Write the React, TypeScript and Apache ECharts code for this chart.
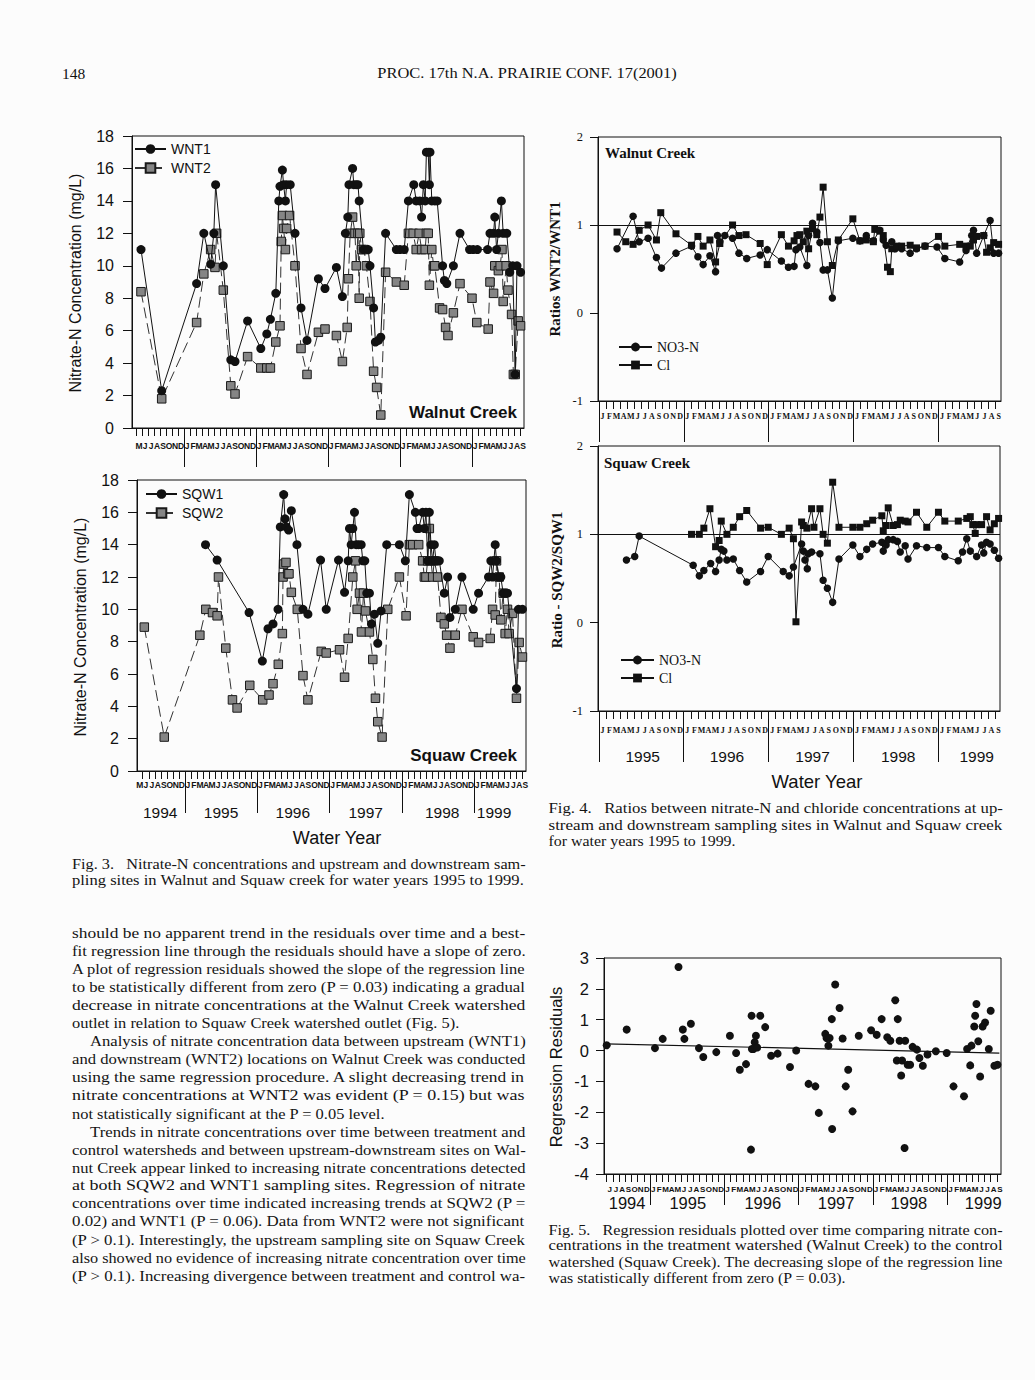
import React, { useEffect, useRef } from 'react';
import * as echarts from 'echarts';

// ---------- tick labels ----------
const MONTH_LETTERS = ['J', 'F', 'M', 'A', 'M', 'J', 'J', 'A', 'S', 'O', 'N', 'D'];
// month index: 0 = start of January 1994
const YEAR_BOUNDS = [12, 24, 36, 48, 60];
const YEARS_F3 = ['1994', '1995', '1996', '1997', '1998', '1999'];
const YEAR_POS_F3 = [7.9, 18, 29.9, 42, 54.7, 63.3];
const YEARS_F4 = ['1995', '1996', '1997', '1998', '1999'];
const YEAR_POS_F4 = [18.2, 30.1, 42.2, 54.3, 65.4];
const YEARS_F5 = ['1994', '1995', '1996', '1997', '1998', '1999'];
const YEAR_POS_F5 = [8.3, 18.1, 30.2, 42.05, 53.8, 65.8];

// ---------- Fig. 3 data: [month index, nitrate-N mg/L] ----------
const WNT1 = [
  [4.83, 11.0], [8.28, 2.3], [14.1, 8.9], [15.3, 12.0], [16.44, 10.1], [16.97, 12.0], [17.27, 15.0], [18.55, 10.0],
  [19.8, 4.2], [20.5, 4.1], [22.6, 6.6], [24.8, 4.9], [25.8, 5.8], [26.4, 6.7], [27.3, 8.3], [27.8, 14.0],
  [28.0, 14.9], [28.4, 15.9], [28.6, 15.0], [28.9, 14.0], [29.1, 15.0], [29.7, 15.0], [30.5, 12.0], [31.5, 7.4],
  [32.5, 5.4], [34.4, 9.2], [35.5, 8.6], [37.4, 9.9], [38.4, 8.1], [38.9, 12.0], [39.3, 13.0], [39.5, 15.0],
  [40.1, 16.0], [40.3, 15.0], [40.7, 15.0], [41.0, 15.0], [41.2, 14.0], [41.9, 11.0], [42.7, 11.0], [43.0, 10.0],
  [43.6, 7.4], [43.9, 5.3], [44.4, 5.4], [44.8, 5.6], [45.6, 12.0], [47.4, 11.0], [48.0, 11.0], [48.7, 11.0],
  [49.4, 14.0], [50.3, 15.0], [50.7, 14.0], [51.3, 14.0], [51.6, 13.0], [51.9, 15.0], [52.2, 14.0], [52.4, 17.0],
  [52.7, 17.0], [52.9, 15.0], [53.0, 17.0], [53.3, 14.0], [53.8, 14.0], [54.2, 14.0], [55.1, 10.0], [55.4, 9.1],
  [55.8, 8.9], [56.9, 10.0], [58.0, 12.0], [59.6, 11.0], [60.2, 11.0], [60.9, 11.0], [62.6, 11.0], [63.0, 12.0],
  [63.6, 12.0], [63.8, 13.0], [64.1, 11.0], [64.4, 12.0], [64.9, 14.0], [65.2, 12.0], [65.8, 12.0], [66.3, 9.6],
  [66.8, 10.0], [67.2, 3.3], [67.5, 10.0], [68.1, 9.6],
];
const WNT2 = [
  [4.83, 8.4], [8.28, 1.8], [14.1, 6.5], [15.3, 9.5], [16.44, 11.0], [17.16, 9.9], [17.44, 12.0], [18.55, 8.5],
  [19.8, 2.6], [20.5, 2.1], [22.6, 4.4], [24.8, 3.7], [25.8, 3.7], [26.4, 3.7], [27.3, 5.3], [28.0, 6.3],
  [28.2, 11.5], [28.4, 13.1], [28.6, 12.3], [28.9, 11.0], [29.1, 12.3], [29.6, 13.1], [30.5, 10.0], [31.5, 4.9],
  [32.5, 3.3], [34.4, 5.9], [35.5, 6.1], [37.4, 5.7], [38.4, 4.1], [39.2, 6.2], [39.4, 9.2], [39.7, 12.0],
  [40.1, 13.0], [40.5, 12.0], [40.7, 10.0], [41.0, 12.0], [41.2, 8.0], [41.3, 12.0], [41.6, 11.0], [42.0, 11.0],
  [42.4, 10.0], [43.0, 7.8], [43.6, 3.5], [44.1, 2.5], [44.8, 0.8], [45.6, 9.6], [47.4, 9.0], [48.7, 8.8],
  [49.4, 12.0], [50.2, 12.0], [50.7, 11.0], [51.2, 12.0], [51.6, 11.0], [52.2, 11.0], [52.4, 12.0], [52.7, 12.0],
  [52.9, 8.8], [53.3, 11.0], [53.6, 10.0], [53.8, 10.0], [54.6, 7.4], [55.1, 7.3], [55.6, 6.2], [56.0, 5.7],
  [56.9, 7.1], [58.0, 8.9], [60.0, 8.0], [60.8, 6.5], [62.7, 6.1], [63.0, 9.0], [63.6, 8.3], [63.8, 10.0],
  [64.4, 9.7], [64.7, 10.0], [65.0, 11.0], [65.2, 7.8], [65.7, 10.0], [66.0, 8.5], [66.6, 7.0], [66.9, 3.3],
  [67.2, 3.3], [67.7, 6.6], [68.1, 6.3],
];
const SQW1 = [
  [15.42, 14.0], [17.35, 13.05], [22.65, 9.8], [24.85, 6.8], [25.79, 8.8], [26.62, 9.1], [27.45, 10.0], [27.83, 15.1],
  [28.39, 17.1], [28.61, 15.6], [28.83, 15.1], [29.21, 14.9], [29.66, 16.1], [30.59, 14.0], [31.59, 10.0], [32.41, 9.7],
  [34.51, 13.05], [35.45, 10.0], [37.49, 13.05], [38.49, 11.05], [39.09, 13.0], [39.31, 15.0], [39.59, 14.0], [39.86, 15.0],
  [40.14, 16.0], [40.42, 14.0], [40.8, 14.0], [41.25, 14.0], [41.52, 13.0], [41.85, 13.0], [42.18, 11.0], [42.62, 11.0],
  [42.96, 9.1], [43.45, 9.7], [44.0, 7.9], [44.56, 9.9], [45.49, 14.0], [47.59, 14.0], [48.58, 13.0], [49.25, 17.1],
  [50.24, 16.0], [50.52, 15.0], [50.79, 15.0], [51.45, 16.0], [51.73, 15.0], [52.0, 16.0], [52.28, 13.0], [52.56, 16.0],
  [52.83, 14.0], [53.11, 13.0], [53.39, 14.0], [53.66, 13.0], [54.21, 13.0], [55.04, 11.0], [55.59, 12.0], [55.98, 9.5],
  [56.86, 10.0], [57.97, 12.0], [59.84, 10.0], [60.73, 11.0], [62.38, 12.0], [62.77, 13.0], [63.05, 12.0], [63.49, 14.0],
  [63.71, 13.0], [64.04, 12.0], [64.42, 12.0], [64.81, 11.0], [65.14, 11.0], [65.53, 11.0], [67.02, 5.1], [67.35, 10.0],
  [68.01, 10.0],
];
const SQW2 = [
  [5.26, 8.9], [8.57, 2.1], [14.48, 8.4], [15.47, 10.0], [16.58, 9.8], [17.35, 9.6], [17.57, 12.0], [18.78, 7.6],
  [19.89, 4.4], [20.66, 3.9], [22.76, 5.3], [24.91, 4.4], [25.96, 4.7], [26.62, 5.4], [27.5, 6.6], [28.17, 8.5],
  [28.28, 12.0], [28.39, 12.8], [28.77, 12.9], [29.1, 12.2], [29.27, 12.2], [29.66, 11.05], [30.65, 10.0], [31.59, 5.9],
  [32.41, 4.4], [34.62, 7.4], [35.45, 7.3], [37.66, 7.5], [38.49, 5.8], [39.09, 8.2], [39.86, 12.0], [40.31, 13.0],
  [40.58, 10.0], [40.97, 11.0], [41.3, 8.6], [41.63, 11.0], [41.96, 9.9], [42.62, 8.6], [43.18, 6.9], [43.62, 4.5],
  [44.0, 3.05], [44.72, 2.1], [45.66, 10.0], [47.59, 12.0], [48.7, 9.6], [49.25, 14.0], [49.8, 14.0], [50.79, 14.0],
  [51.45, 13.0], [51.73, 12.0], [52.0, 12.0], [52.28, 13.0], [52.56, 15.0], [52.83, 13.0], [53.11, 12.0], [53.39, 13.0],
  [53.94, 12.0], [54.49, 9.5], [55.04, 9.1], [55.43, 8.4], [55.98, 7.6], [56.86, 8.4], [57.97, 10.0], [59.84, 8.3],
  [60.73, 7.95], [62.66, 8.2], [63.05, 10.0], [63.49, 9.65], [63.71, 13.0], [64.15, 12.0], [64.42, 9.35], [64.81, 11.0],
  [65.14, 8.5], [65.53, 10.0], [65.8, 8.5], [66.36, 9.75], [67.02, 4.5], [67.46, 7.95], [68.01, 7.05],
];

// ---------- Fig. 4 data: [month index, ratio] ----------
const WN_NO3 = [
  [14.57, 0.73], [16.84, 1.10], [17.7, 0.81], [18.96, 0.85], [20.14, 0.63], [20.85, 0.51], [22.9, 0.68], [25.1, 0.76],
  [26.0, 0.64], [26.74, 0.55], [27.7, 0.65], [28.5, 0.47], [28.77, 0.88], [29.1, 0.81], [29.8, 0.88], [30.9, 0.85],
  [31.8, 0.68], [32.9, 0.62], [34.8, 0.66], [35.8, 0.72], [37.8, 0.59], [38.8, 0.52], [39.6, 0.53], [39.85, 0.72],
  [40.4, 0.75], [41.4, 0.54], [41.65, 0.88], [42.2, 1.02], [42.8, 0.92], [43.25, 0.80], [43.7, 0.49], [44.3, 0.49],
  [45.0, 0.17], [45.85, 0.82], [47.9, 0.85], [48.9, 0.82], [49.8, 0.88], [50.8, 0.82], [51.7, 0.94], [52.2, 0.83],
  [52.6, 0.77], [53.4, 0.81], [53.9, 0.73], [54.8, 0.73], [56.0, 0.68], [56.9, 0.73], [58.1, 0.76], [59.8, 0.75],
  [60.9, 0.62], [63.0, 0.58], [63.9, 0.71], [64.7, 0.88], [64.95, 0.94], [65.4, 0.68], [66.4, 0.88], [67.3, 1.05],
  [67.8, 0.68], [68.5, 0.68],
];
const WN_CL = [
  [14.57, 0.92], [15.8, 0.81], [16.84, 0.78], [17.7, 0.94], [18.96, 1.0], [20.14, 0.83], [20.75, 1.14], [22.9, 0.9],
  [25.1, 0.77], [26.0, 0.87], [26.74, 0.76], [27.7, 0.83], [28.5, 0.58], [29.1, 0.79], [30.9, 1.0], [31.8, 0.88],
  [32.8, 0.89], [34.8, 0.79], [35.8, 0.55], [37.8, 0.89], [38.8, 0.76], [39.6, 0.82], [40.0, 0.88], [40.4, 0.89],
  [40.9, 0.81], [41.4, 0.93], [41.65, 0.73], [42.2, 0.96], [42.8, 0.89], [43.25, 1.09], [43.7, 1.43], [44.3, 0.81],
  [45.0, 0.54], [45.85, 0.83], [47.9, 1.07], [48.9, 0.82], [49.8, 0.83], [50.8, 0.81], [51.0, 0.95], [51.7, 0.93],
  [52.2, 0.88], [52.8, 0.52], [53.2, 0.47], [53.4, 0.73], [54.1, 0.76], [54.8, 0.76], [56.0, 0.77], [56.9, 0.74],
  [58.1, 0.76], [60.0, 0.87], [60.9, 0.76], [63.0, 0.78], [63.9, 0.76], [64.5, 0.76], [64.95, 0.83], [65.4, 0.87],
  [66.4, 0.88], [66.8, 0.69], [67.3, 0.74], [67.8, 0.80], [68.5, 0.78],
];
const SQ_NO3 = [
  [15.9, 0.71], [17.07, 0.75], [17.7, 0.98], [25.33, 0.65], [26.2, 0.53], [26.84, 0.59], [27.8, 0.67], [28.5, 0.58],
  [29.0, 0.71], [29.3, 0.83], [29.67, 0.81], [30.1, 0.71], [31.0, 0.72], [31.9, 0.59], [32.9, 0.46], [34.86, 0.58],
  [35.94, 0.75], [38.06, 0.58], [38.9, 0.53], [39.5, 0.63], [40.66, 0.89], [40.9, 0.81], [41.13, 0.71], [41.46, 0.61],
  [41.6, 0.78], [42.07, 0.80], [43.25, 0.78], [43.7, 0.48], [44.3, 0.39], [45.05, 0.23], [45.94, 0.72], [47.9, 0.88],
  [48.9, 0.75], [49.86, 0.83], [50.7, 0.89], [52.0, 0.91], [52.2, 0.81], [52.6, 0.88], [52.9, 0.94], [53.6, 0.94],
  [54.2, 0.92], [54.6, 0.80], [55.3, 0.87], [55.7, 0.72], [56.9, 0.87], [58.35, 0.85], [60.0, 0.85], [60.9, 0.75],
  [62.8, 0.70], [63.4, 0.80], [64.0, 0.95], [64.5, 0.81], [65.4, 0.75], [66.1, 0.88], [66.4, 0.79], [66.8, 0.91],
  [67.3, 0.89], [67.9, 0.82], [68.5, 0.73],
];
const SQ_CL = [
  [25.1, 1.0], [26.2, 1.0], [26.84, 1.07], [27.7, 1.29], [28.5, 0.86], [29.0, 0.93], [29.3, 1.15], [30.1, 1.0],
  [31.0, 1.08], [31.9, 1.2], [32.9, 1.27], [34.86, 1.07], [35.94, 1.08], [37.8, 1.0], [38.9, 1.07], [39.5, 0.95],
  [39.86, 0.01], [40.66, 1.14], [40.9, 1.10], [41.4, 1.07], [42.07, 1.29], [42.4, 1.08], [43.25, 1.29], [43.7, 1.0],
  [44.3, 0.90], [45.05, 1.59], [45.94, 1.08], [47.9, 1.08], [48.9, 1.08], [49.86, 1.12], [50.7, 1.16], [52.0, 1.21],
  [52.2, 1.04], [52.6, 1.10], [52.9, 1.30], [53.6, 1.10], [54.2, 1.11], [54.6, 1.16], [55.3, 1.15], [55.7, 1.14],
  [56.9, 1.25], [58.35, 1.08], [60.0, 1.25], [60.9, 1.15], [62.8, 1.15], [64.0, 1.18], [64.5, 1.20], [64.85, 1.11],
  [65.2, 1.01], [65.4, 1.11], [66.1, 1.11], [66.8, 1.20], [67.3, 1.05], [67.9, 1.12], [68.5, 1.18],
];

// ---------- Fig. 5 data: [month index, residual] ----------
const RESID = [
  [5.0, 0.17], [8.23, 0.68], [12.8, 0.08], [14.05, 0.38], [16.6, 2.71], [17.3, 0.68], [17.55, 0.38], [18.6, 0.87],
  [19.9, 0.08], [20.6, -0.21], [22.7, -0.05], [24.9, 0.48], [25.9, -0.08], [26.5, -0.62], [27.5, -0.44], [28.3, -3.21],
  [28.4, 1.13], [28.45, 0.05], [28.7, 0.05], [28.9, 0.27], [29.1, 0.48], [29.3, 0.1], [29.8, 1.13], [30.6, 0.76],
  [31.55, -0.17], [32.6, -0.1], [34.6, -0.53], [35.6, 0.0], [37.6, -1.08], [38.7, -1.16], [39.25, -2.02], [40.3, 0.54],
  [40.5, 0.41], [40.8, 0.16], [41.0, 0.41], [41.35, 1.02], [41.4, -2.54], [41.9, 2.14], [42.6, 1.38], [43.1, 0.39],
  [43.6, -1.16], [44.0, -0.62], [44.7, -1.97], [45.7, 0.48], [47.7, 0.66], [48.6, 0.51], [49.4, 1.02], [50.3, 0.43],
  [50.8, 0.32], [51.6, 1.63], [51.85, -0.32], [52.0, 1.02], [52.3, 0.32], [52.55, -0.81], [52.7, -0.32], [53.1, -3.16],
  [53.2, 0.32], [53.6, -0.46], [54.0, -0.46], [54.4, 0.12], [55.1, 0.03], [55.5, -0.24], [56.05, -0.49], [56.8, -0.13],
  [58.15, -0.02], [59.9, -0.08], [61.0, -1.16], [62.7, -1.48], [63.2, 0.05], [63.7, -0.48], [63.9, 0.16], [64.35, 0.78],
  [64.5, 1.13], [64.7, 1.51], [65.0, 0.30], [65.3, -0.84], [65.7, 0.78], [66.1, 0.91], [66.7, 0.05], [67.0, 1.29],
  [67.6, -0.49], [68.1, -0.46],
];
const REG_LINE = [[4.8, 0.22], [68.4, -0.08]];

// ---------- page text ----------
const HEADER_LEFT = '148';
const HEADER_CENTER = 'PROC. 17th N.A. PRAIRIE CONF. 17(2001)';
const FIG3_CAPTION = [
  'Fig. 3.\u00a0\u00a0 Nitrate-N concentrations and upstream and downstream sam-',
  'pling sites in Walnut and Squaw creek for water years 1995 to 1999.',
];
const BODY_P1 = [
  'should be no apparent trend in the residuals over time and a best-',
  'fit regression line through the residuals should have a slope of zero.',
  'A plot of regression residuals showed the slope of the regression line',
  'to be statistically different from zero (P = 0.03) indicating a gradual',
  'decrease in nitrate concentrations at the Walnut Creek watershed',
  'outlet in relation to Squaw Creek watershed outlet (Fig. 5).',
];
const BODY_P2 = [
  'Analysis of nitrate concentration data between upstream (WNT1)',
  'and downstream (WNT2) locations on Walnut Creek was conducted',
  'using the same regression procedure. A slight decreasing trend in',
  'nitrate concentrations at WNT2 was evident (P = 0.15) but was',
  'not statistically significant at the P = 0.05 level.',
];
const BODY_P3 = [
  'Trends in nitrate concentrations over time between treatment and',
  'control watersheds and between upstream-downstream sites on Wal-',
  'nut Creek appear linked to increasing nitrate concentrations detected',
  'at both SQW2 and WNT1 sampling sites. Regression of nitrate',
  'concentrations over time indicated increasing trends at SQW2 (P =',
  '0.02) and WNT1 (P = 0.06). Data from WNT2 were not significant',
  '(P > 0.1). Interestingly, the upstream sampling site on Squaw Creek',
  'also showed no evidence of increasing nitrate concentration over time',
  '(P > 0.1). Increasing divergence between treatment and control wa-',
];
const FIG4_CAPTION = [
  'Fig. 4.\u00a0\u00a0 Ratios between nitrate-N and chloride concentrations at up-',
  'stream and downstream sampling sites in Walnut and Squaw creek',
  'for water years 1995 to 1999.',
];
const FIG5_CAPTION = [
  'Fig. 5.\u00a0\u00a0 Regression residuals plotted over time comparing nitrate con-',
  'centrations in the treatment watershed (Walnut Creek) to the control',
  'watershed (Squaw Creek). The decreasing slope of the regression line',
  'was statistically different from zero (P = 0.03).',
];

// ---------- styling ----------
const INK = '#111111';
const SANS = 'Liberation Sans';
const SERIF = 'Liberation Serif';
const BG = '#fcfcfc';

let measureCtx: CanvasRenderingContext2D | null = null;
function measure(text: string, size: number, weight: string, family: string) {
  if (!measureCtx) measureCtx = document.createElement('canvas').getContext('2d');
  measureCtx!.font = `${weight} ${size}px "${family}"`;
  return measureCtx!.measureText(text).width;
}

function txt(text: string, x: number, y: number, o: any = {}) {
  return {
    type: 'text',
    x,
    y,
    rotation: o.rotation || 0,
    scaleX: o.scaleX || 1,
    silent: true,
    style: {
      text,
      fontSize: o.size || 14,
      fontFamily: o.family || SERIF,
      fontWeight: o.weight || 'normal',
      fill: o.fill || INK,
      textAlign: o.align || 'left',
      align: o.align || 'left',
      textVerticalAlign: 'middle',
      verticalAlign: 'middle',
    },
  };
}

// a block of lines; justified lines are stretched to the column width
function textBlock(lines: { t: string; x: number; y: number; right: number; just: boolean }[], size: number) {
  const scales: number[] = [];
  lines.forEach((l) => {
    if (l.just) scales.push((l.right - l.x) / measure(l.t, size, 'normal', SERIF));
  });
  const base = scales.length ? scales.reduce((a, b) => a + b, 0) / scales.length : 1;
  return lines.map((l) => {
    const s = l.just ? (l.right - l.x) / measure(l.t, size, 'normal', SERIF) : Math.min(base, 1.06);
    return txt(l.t, l.x, l.y, { size, scaleX: s, fill: '#141414' });
  });
}

function range(a: number, b: number, off = 0) {
  const r: number[] = [];
  for (let m = a; m <= b; m++) r.push(m + off);
  return r;
}

function monthAxis(gridIndex: number, min: number, max: number, first: number, last: number, family: string, size: number, margin: number) {
  return {
    type: 'value',
    gridIndex,
    min,
    max,
    position: 'bottom',
    axisLine: { show: true, onZero: false, lineStyle: { color: INK, width: 1 } },
    axisTick: { show: true, customValues: range(first, last + 1).filter((t) => t > min && t < max), length: 8, lineStyle: { color: INK, width: 1 } },
    axisLabel: {
      show: true,
      customValues: range(first, last, 0.5),
      formatter: (v: number) => MONTH_LETTERS[Math.floor(v) % 12],
      margin,
      fontSize: size,
      fontFamily: family,
      fontWeight: 'bold',
      color: INK,
    },
    splitLine: { show: false },
  };
}

function nearest(arr: number[], v: number) {
  let bi = 0;
  arr.forEach((a, i) => {
    if (Math.abs(a - v) < Math.abs(arr[bi] - v)) bi = i;
  });
  return bi;
}

function yearAxis(gridIndex: number, min: number, max: number, len: number, years?: string[], pos?: number[], size = 15, margin = 30) {
  return {
    type: 'value',
    gridIndex,
    min,
    max,
    position: 'bottom',
    axisLine: { show: false, onZero: false },
    axisTick: { show: true, customValues: YEAR_BOUNDS, length: len, lineStyle: { color: INK, width: 1 } },
    axisLabel: years
      ? {
          show: true,
          customValues: pos,
          formatter: (v: number) => years[nearest(pos!, v)],
          margin,
          fontSize: size,
          fontFamily: SANS,
          color: INK,
        }
      : { show: false },
    splitLine: { show: false },
  };
}

function valueYAxis(gridIndex: number, min: number, max: number, interval: number, family: string, size: number, margin: number, tickLen: number) {
  return {
    type: 'value',
    gridIndex,
    min,
    max,
    interval,
    axisLine: { show: true, lineStyle: { color: INK, width: 1 } },
    axisTick: { show: true, length: tickLen, lineStyle: { color: INK, width: 1 } },
    axisLabel: { fontSize: size, fontFamily: family, color: INK, margin },
    splitLine: { show: false },
  };
}

function buildOption() {
  const grids = [
    { left: 132, top: 136, width: 392, height: 292 },
    { left: 137, top: 480, width: 389, height: 291 },
    { left: 598, top: 137, width: 403, height: 264 },
    { left: 598, top: 446, width: 402, height: 265 },
    { left: 604, top: 958, width: 397, height: 216 },
  ].map((g) => ({ ...g, show: true, borderColor: INK, borderWidth: 1, backgroundColor: 'transparent' }));

  const xAxis = [
    monthAxis(0, 3.33, 68.67, 4, 68, SANS, 8.5, 13),
    yearAxis(0, 3.33, 68.67, 39),
    monthAxis(1, 4.05, 68.6, 4, 68, SANS, 8.5, 9),
    yearAxis(1, 4.05, 68.6, 42, YEARS_F3, YEAR_POS_F3, 15.5, 33),
    monthAxis(2, 11.88, 68.84, 12, 68, SERIF, 8, 11),
    yearAxis(2, 11.88, 68.84, 41),
    monthAxis(3, 11.88, 68.7, 12, 68, SERIF, 8, 15),
    yearAxis(3, 11.88, 68.7, 51, YEARS_F4, YEAR_POS_F4, 15.5, 37),
    monthAxis(4, 4.57, 68.67, 5, 68, SANS, 8, 11),
    yearAxis(4, 4.57, 68.67, 31, YEARS_F5, YEAR_POS_F5, 16.5, 20),
  ];
  const yAxis = [
    valueYAxis(0, 0, 18, 2, SANS, 16, 18, 9),
    valueYAxis(1, 0, 18, 2, SANS, 16, 18, 9),
    valueYAxis(2, -1, 2, 1, SERIF, 12.5, 15, 8),
    valueYAxis(3, -1, 2, 1, SERIF, 12.5, 15, 8),
    valueYAxis(4, -4, 3, 1, SANS, 16.5, 15, 8),
  ];

  const upLine = (name: string, data: number[][], xi: number, yi: number) => ({
    type: 'line', name, data, xAxisIndex: xi, yAxisIndex: yi, symbol: 'circle', symbolSize: 9,
    lineStyle: { color: INK, width: 1 }, itemStyle: { color: INK }, z: 3,
  });
  const downLine = (name: string, data: number[][], xi: number, yi: number) => ({
    type: 'line', name, data, xAxisIndex: xi, yAxisIndex: yi, symbol: 'rect', symbolSize: 8.5,
    lineStyle: { color: '#333333', width: 1, type: [11, 5] },
    itemStyle: { color: '#858585', borderColor: '#1a1a1a', borderWidth: 1 }, z: 2,
  });
  const refLine = {
    silent: true, symbol: ['none', 'none'], label: { show: false },
    lineStyle: { color: INK, width: 1, type: 'solid' }, data: [{ yAxis: 1 }],
  };
  const ratioLine = (name: string, data: number[][], xi: number, yi: number, sym: string, withRef: boolean) => ({
    type: 'line', name, data, xAxisIndex: xi, yAxisIndex: yi, symbol: sym, symbolSize: sym === 'circle' ? 7.5 : 7,
    lineStyle: { color: INK, width: 1 }, itemStyle: { color: INK },
    ...(withRef ? { markLine: refLine } : {}),
  });

  const series = [
    downLine('WNT2', WNT2, 0, 0),
    upLine('WNT1', WNT1, 0, 0),
    downLine('SQW2', SQW2, 2, 1),
    upLine('SQW1', SQW1, 2, 1),
    ratioLine('NO3-N', WN_NO3, 4, 2, 'circle', true),
    ratioLine('Cl', WN_CL, 4, 2, 'rect', false),
    ratioLine('NO3-N', SQ_NO3, 6, 3, 'circle', true),
    ratioLine('Cl', SQ_CL, 6, 3, 'rect', false),
    {
      type: 'scatter', name: 'Residuals', data: RESID, xAxisIndex: 8, yAxisIndex: 4,
      symbol: 'circle', symbolSize: 8, itemStyle: { color: INK, opacity: 1 }, z: 3,
    },
    {
      type: 'line', name: 'Regression', data: REG_LINE, xAxisIndex: 8, yAxisIndex: 4,
      symbol: 'none', lineStyle: { color: INK, width: 1.2 },
    },
  ];

  const legendBase = {
    orient: 'vertical', padding: 0, selectedMode: false, itemGap: 5,
  };
  const legend = [
    { ...legendBase, data: ['WNT1', 'WNT2'], left: 134, top: 142, itemWidth: 31, itemHeight: 12, textStyle: { fontFamily: SANS, fontSize: 14, color: INK } },
    { ...legendBase, data: ['SQW1', 'SQW2'], left: 145, top: 487, itemWidth: 31, itemHeight: 12, textStyle: { fontFamily: SANS, fontSize: 14, color: INK } },
    { ...legendBase, data: ['NO3-N', 'Cl'], left: 618, top: 340, itemGap: 4, itemWidth: 33, itemHeight: 11, textStyle: { fontFamily: SERIF, fontSize: 14, color: INK } },
    { ...legendBase, data: ['NO3-N', 'Cl'], left: 620, top: 653, itemGap: 4, itemWidth: 33, itemHeight: 11, textStyle: { fontFamily: SERIF, fontSize: 14, color: INK } },
  ];

  const R90 = Math.PI / 2;
  const elements: any[] = [
    txt(HEADER_LEFT, 62, 73, { size: 15.5 }),
    txt(HEADER_CENTER, 527, 73, { size: 15.5, align: 'center', scaleX: 1.06 }),
    // Fig. 3
    txt('Nitrate-N Concentration (mg/L)', 75, 283, { size: 16, family: SANS, rotation: R90, align: 'center' }),
    txt('Nitrate-N Concentration (mg/L)', 80, 627, { size: 16, family: SANS, rotation: R90, align: 'center' }),
    txt('Walnut Creek', 517, 412, { size: 17, family: SANS, weight: 'bold', align: 'right' }),
    txt('Squaw Creek', 517, 755, { size: 17, family: SANS, weight: 'bold', align: 'right' }),
    txt('Water Year', 337, 838, { size: 18, family: SANS, align: 'center' }),
    // Fig. 4
    txt('Ratios WNT2/WNT1', 555, 269, { size: 15, family: SERIF, weight: 'bold', rotation: R90, align: 'center' }),
    txt('Ratio - SQW2/SQW1', 557, 580, { size: 15, family: SERIF, weight: 'bold', rotation: R90, align: 'center' }),
    txt('Walnut Creek', 605, 153, { size: 15, family: SERIF, weight: 'bold' }),
    txt('Squaw Creek', 604, 463, { size: 15, family: SERIF, weight: 'bold' }),
    txt('Water Year', 817, 781, { size: 18.5, family: SANS, align: 'center' }),
    // Fig. 5
    txt('Regression Residuals', 556, 1067, { size: 16.5, family: SANS, rotation: R90, align: 'center' }),
  ];

  // captions and body text
  const L = 72, R = 526, L2 = 548.5, R2 = 1003;
  elements.push(
    ...textBlock(
      FIG3_CAPTION.map((t, i) => ({ t, x: L, y: 863.3 + i * 16.7, right: i === 1 ? 524.5 : R, just: true })),
      15,
    ),
  );
  const bodyLines: { t: string; x: number; y: number; right: number; just: boolean }[] = [];
  let row = 0;
  const addPara = (lines: string[], indent: boolean, lastJust: boolean) => {
    lines.forEach((t, i) => {
      bodyLines.push({
        t,
        x: indent && i === 0 ? 90 : L,
        y: 932.7 + row * 18.05,
        right: R,
        just: i < lines.length - 1 || lastJust,
      });
      row++;
    });
  };
  addPara(BODY_P1, false, false);
  addPara(BODY_P2, true, false);
  addPara(BODY_P3, true, true);
  elements.push(...textBlock(bodyLines, 15.5));
  elements.push(
    ...textBlock(
      FIG4_CAPTION.map((t, i) => ({ t, x: L2, y: [808.3, 824.5, 841][i], right: R2, just: i < 2 })),
      15,
    ),
  );
  elements.push(
    ...textBlock(
      FIG5_CAPTION.map((t, i) => ({ t, x: L2, y: 1229.3 + i * 16, right: R2, just: i < 3 })),
      15,
    ),
  );

  return {
    animation: false,
    backgroundColor: BG,
    grid: grids,
    xAxis,
    yAxis,
    legend,
    series,
    graphic: { elements },
  };
}

export default function App() {
  const ref = useRef<HTMLDivElement>(null);
  useEffect(() => {
    const chart = echarts.init(ref.current!, null, { renderer: 'svg', width: 1035, height: 1380 });
    chart.setOption(buildOption() as any);
    return () => chart.dispose();
  }, []);
  return (
    <div
      ref={ref}
      style={{ position: 'absolute', left: 0, top: 0, width: 1035, height: 1380, background: BG }}
    />
  );
}
